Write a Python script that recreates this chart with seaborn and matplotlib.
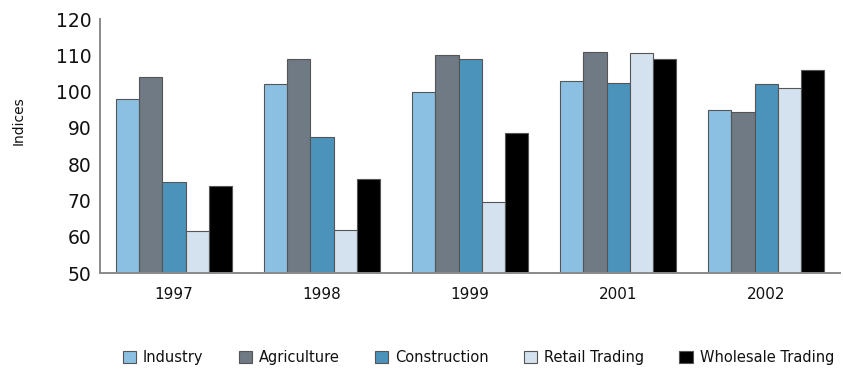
import matplotlib
matplotlib.use("Agg")
import matplotlib.pyplot as plt
import seaborn as sns
import pandas as pd
from matplotlib.patches import Patch

years = ["1997", "1998", "1999", "2001", "2002"]
sectors = ["Industry", "Agriculture", "Construction", "Retail Trading", "Wholesale Trading"]
industry = [98, 102, 100, 103, 95]
agriculture = [104, 109, 110, 111, 94.5]
construction = [75, 87.5, 109, 102.5, 102]
retail = [61.5, 62, 69.5, 110.5, 101]
wholesale = [74, 76, 88.5, 109, 106]

colors = ["#8cc0e2", "#6f7a84", "#4b93bb", "#d4e2ef", "#000000"]

values = [industry, agriculture, construction, retail, wholesale]
df = pd.DataFrame(
    [(y, s, v[i]) for s, v in zip(sectors, values) for i, y in enumerate(years)],
    columns=["Year", "Sector", "Index"],
)

sns.set_style("white")
plt.rcParams["font.family"] = ["DejaVu Sans"]

fig = plt.figure(figsize=(8.43, 3.69), dpi=100)
ax = fig.add_axes([0.1186, 0.26, 0.878, 0.6885])

sns.barplot(
    data=df, x="Year", y="Index", hue="Sector", order=years, hue_order=sectors,
    palette=colors, width=0.78, gap=0, ax=ax, legend=False,
    edgecolor="#555555", linewidth=0.8, saturation=1,
)

ax.set_ylim(50, 120)
ax.set_xlim(-0.5, len(years) - 0.5)
ax.set_yticks(range(50, 121, 10))
ax.tick_params(axis="y", labelsize=13.5, length=4, width=0.8, color="#888888",
               pad=2, labelcolor="#111111")
ax.tick_params(axis="x", labelsize=11, length=0, pad=10, labelcolor="#111111")
ax.set_xticks([i + 0.5 for i in range(len(years))], minor=True)
ax.tick_params(axis="x", which="minor", length=4, width=0.8, color="#888888")
ax.set_xlabel("")
ax.set_ylabel("Indices", fontsize=10, color="#111111")
ax.yaxis.set_label_coords(-0.1, 0.6)

for side in ["top", "right"]:
    ax.spines[side].set_visible(False)
for side in ["left", "bottom"]:
    ax.spines[side].set_color("#8a8a8a")
    ax.spines[side].set_linewidth(1.4)
    ax.spines[side].set_linestyle((0, (1, 1)))

handles = [Patch(facecolor=c, edgecolor="#555555", linewidth=0.8) for c in colors]
fig.legend(
    handles, sectors, loc="center right", bbox_to_anchor=(1.0, 0.032), ncol=5,
    frameon=False, fontsize=10.5, handlelength=0.9, handleheight=0.9,
    handletextpad=0.5, columnspacing=2.4, labelcolor="#111111",
    borderaxespad=0.2,
)

fig.savefig("out.png", dpi=100)
